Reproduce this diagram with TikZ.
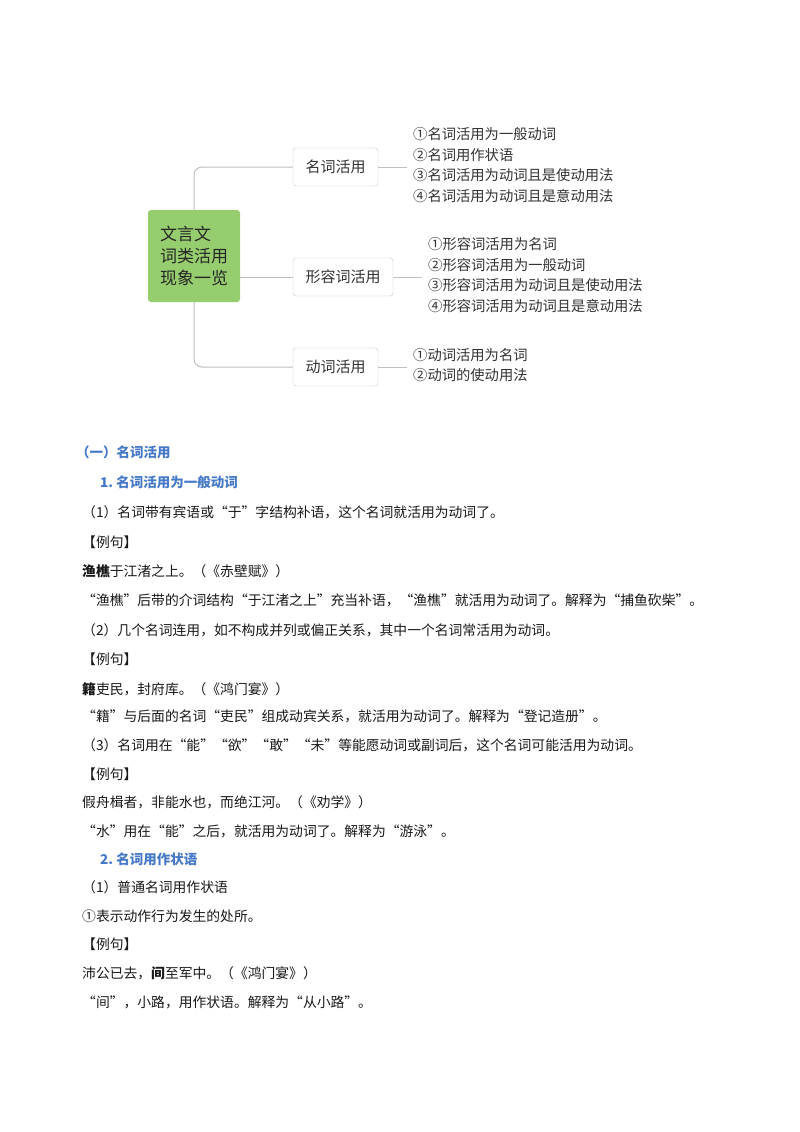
\documentclass[tikz,border=0pt]{standalone}
\usepackage{fontspec}
\setmainfont{Noto Sans CJK SC}
\begin{document}
\begin{tikzpicture}[x=1pt,y=-1pt,
  branch/.style={draw=black!22,rounded corners=3pt,fill=white,minimum height=38pt,inner xsep=10pt,font=\fontsize{15}{17}\selectfont,text=black!80},
  leaf/.style={anchor=west,align=left,font=\fontsize{14.3}{20.5}\selectfont,text=black!80,inner sep=0pt},
  link/.style={draw=black!25,line width=1pt,rounded corners=8pt},
  head/.style={anchor=west,inner sep=0pt,font=\bfseries\fontsize{13.5}{15}\selectfont,text={rgb,255:red,70;green,120;blue,200}},
  body/.style={anchor=west,inner sep=0pt,font=\fontsize{13.8}{15}\selectfont,text=black!90}]
\useasboundingbox (0,0) rectangle (800,1132);
\fill[white] (0,0) rectangle (800,1132);
% mind map
\node[fill={rgb,255:red,150;green,205;blue,110},rounded corners=3pt,minimum width=92pt,minimum height=92pt,align=left,font=\fontsize{17}{22}\selectfont,text=black!85] (c) at (194,256) {文言文\\词类活用\\现象一览};
\node[branch,minimum width=85pt] (b1) at (335.5,167) {名词活用};
\node[branch,minimum width=100pt] (b2) at (343,277) {形容词活用};
\node[branch,minimum width=85pt] (b3) at (335.5,367) {动词活用};
\draw[link] (c.north) |- (b1.west);
\draw[link] (c.east |- b2.west) -- (b2.west);
\draw[link] (c.south) |- (b3.west);
\coordinate (e1) at (407,167);
\coordinate (e2) at (422,277);
\coordinate (e3) at (407,367);
\draw[link] (b1.east) -- (e1);
\draw[link] (b2.east) -- (e2);
\draw[link] (b3.east) -- (e3);
\node[leaf] (l1) at (413,165) {①名词活用为一般动词\\②名词用作状语\\③名词活用为动词且是使动用法\\④名词活用为动词且是意动用法};
\node[leaf] (l2) at (428,275) {①形容词活用为名词\\②形容词活用为一般动词\\③形容词活用为动词且是使动用法\\④形容词活用为动词且是意动用法};
\node[leaf] (l3) at (413,365) {①动词活用为名词\\②动词的使动用法};
% text
\node[head] (h1) at (76,452) {（一）名词活用};
\node[head] (h2) at (100,482) {1.\ 名词活用为一般动词};
\node[body] (t1) at (82,512) {（1）名词带有宾语或“于”字结构补语，这个名词就活用为动词了。};
\node[body] (t2) at (82,542) {【例句】};
\node[body] (t3) at (82,571) {\textbf{渔樵}于江渚之上。（《赤壁赋》）};
\node[body] (t4) at (82,600) {“渔樵”后带的介词结构“于江渚之上”充当补语，“渔樵”就活用为动词了。解释为“捕鱼砍柴”。};
\node[body] (t5) at (82,630) {（2）几个名词连用，如不构成并列或偏正关系，其中一个名词常活用为动词。};
\node[body] (t6) at (82,659) {【例句】};
\node[body] (t7) at (82,689) {\textbf{籍}吏民，封府库。（《鸿门宴》）};
\node[body] (t8) at (82,716) {“籍”与后面的名词“吏民”组成动宾关系，就活用为动词了。解释为“登记造册”。};
\node[body] (t9) at (82,745) {（3）名词用在“能”“欲”“敢”“未”等能愿动词或副词后，这个名词可能活用为动词。};
\node[body] (t10) at (82,774) {【例句】};
\node[body] (t11) at (82,802) {假舟楫者，非能水也，而绝江河。（《劝学》）};
\node[body] (t12) at (82,831) {“水”用在“能”之后，就活用为动词了。解释为“游泳”。};
\node[head] (h3) at (100,859) {2.\ 名词用作状语};
\node[body] (t13) at (82,887) {（1）普通名词用作状语};
\node[body] (t14) at (82,916) {①表示动作行为发生的处所。};
\node[body] (t15) at (82,944) {【例句】};
\node[body] (t16) at (82,973) {沛公已去，\textbf{间}至军中。（《鸿门宴》）};
\node[body] (t17) at (82,1002) {“间”，小路，用作状语。解释为“从小路”。};
\end{tikzpicture}
\end{document}
